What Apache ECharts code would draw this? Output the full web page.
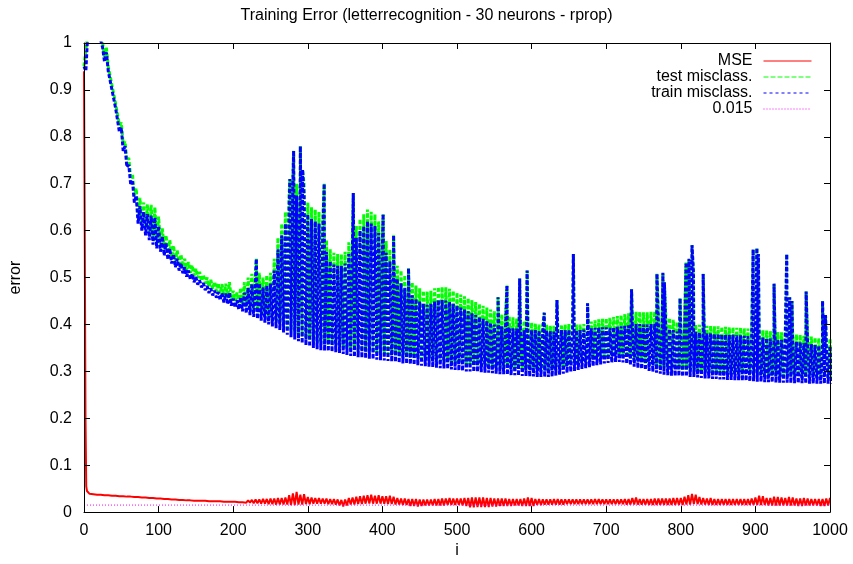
<!DOCTYPE html>
<html><head><meta charset="utf-8">
<script src="https://cdn.jsdelivr.net/npm/echarts@6/dist/echarts.min.js"></script>
<style>html,body{margin:0;padding:0;background:#fff}#c{width:853px;height:564px}</style>
</head><body><div id="c"></div>
<script>
const chartTitle = 'Training Error (letterrecognition - 30 neurons - rprop)';
const seriesNames = ['MSE', 'test misclass.', 'train misclass.', '0.015'];
const xName = 'i';
const yName = 'error';
const xMin = 0, xMax = 1000, xInterval = 100;
const yMin = 0, yMax = 1, yInterval = 0.1;
const threshold = 0.015;

// misclassification envelopes, read every 5 iterations (i = 0,5,...,1000); 1.02 = off the top of the plot
const testHi = [
0.95,1.02,1.02,1.02,1.02,1,0.99,0.95,0.91,0.87,0.83,0.79,0.755,0.72,0.69,0.67,0.66,0.656,0.655,0.65,
0.63,0.605,0.59,0.58,0.568,0.558,0.549,0.54,0.533,0.526,0.519,0.512,0.506,0.5,0.495,0.491,0.488,0.486,0.487,0.49,
0.472,0.468,0.478,0.49,0.5,0.508,0.52,0.51,0.5,0.505,0.51,0.54,0.585,0.615,0.64,0.68,0.72,0.7,0.74,0.7,
0.66,0.65,0.645,0.64,0.62,0.58,0.56,0.553,0.55,0.55,0.555,0.575,0.61,0.61,0.625,0.635,0.645,0.64,0.635,0.62,
0.6,0.578,0.56,0.545,0.525,0.515,0.505,0.495,0.49,0.483,0.477,0.472,0.47,0.472,0.477,0.48,0.48,0.479,0.476,0.472,
0.468,0.464,0.46,0.456,0.452,0.448,0.444,0.44,0.436,0.432,0.428,0.425,0.422,0.42,0.418,0.415,0.413,0.41,0.408,0.406,
0.404,0.402,0.4,0.4,0.399,0.398,0.397,0.398,0.4,0.4,0.401,0.401,0.4,0.4,0.401,0.403,0.406,0.409,0.411,0.412,
0.413,0.414,0.416,0.418,0.42,0.422,0.424,0.426,0.427,0.427,0.426,0.426,0.427,0.428,0.425,0.42,0.418,0.414,0.41,0.405,
0.402,0.4,0.4,0.4,0.4,0.399,0.398,0.397,0.397,0.396,0.396,0.395,0.395,0.394,0.394,0.393,0.393,0.392,0.391,0.39,
0.39,0.389,0.388,0.387,0.386,0.385,0.384,0.383,0.382,0.381,0.38,0.379,0.378,0.376,0.375,0.374,0.372,0.371,0.37,0.37,
0.37];
const testLo = [
0.95,1.02,1.02,1.02,1.02,0.97,0.95,0.91,0.87,0.825,0.785,0.75,0.715,0.675,0.63,0.615,0.605,0.595,0.585,0.577,
0.57,0.561,0.552,0.544,0.536,0.529,0.523,0.516,0.51,0.504,0.499,0.493,0.487,0.481,0.476,0.471,0.466,0.461,0.457,0.454,
0.45,0.446,0.442,0.438,0.434,0.43,0.426,0.422,0.418,0.414,0.41,0.406,0.402,0.397,0.392,0.387,0.382,0.378,0.374,0.37,
0.367,0.364,0.361,0.359,0.358,0.357,0.356,0.355,0.353,0.351,0.349,0.347,0.345,0.344,0.343,0.342,0.341,0.34,0.339,0.338,
0.337,0.336,0.335,0.334,0.332,0.331,0.33,0.329,0.328,0.327,0.326,0.325,0.324,0.323,0.322,0.321,0.32,0.319,0.318,0.317,
0.316,0.315,0.314,0.314,0.313,0.313,0.312,0.311,0.311,0.31,0.309,0.308,0.308,0.307,0.306,0.306,0.305,0.304,0.304,0.303,
0.303,0.302,0.302,0.302,0.302,0.303,0.305,0.307,0.309,0.311,0.313,0.315,0.317,0.319,0.321,0.323,0.325,0.327,0.329,0.331,
0.332,0.333,0.334,0.334,0.333,0.33,0.327,0.324,0.321,0.319,0.317,0.315,0.313,0.311,0.309,0.307,0.306,0.305,0.304,0.304,
0.303,0.303,0.302,0.302,0.301,0.3,0.299,0.299,0.298,0.298,0.297,0.297,0.296,0.296,0.295,0.295,0.294,0.294,0.293,0.293,
0.292,0.292,0.291,0.291,0.291,0.29,0.29,0.29,0.29,0.289,0.289,0.289,0.289,0.288,0.288,0.288,0.288,0.288,0.288,0.288,
0.288];
const trainHi = [
0.95,1.02,1.02,1.02,1.02,0.99,0.98,0.94,0.9,0.86,0.82,0.78,0.74,0.705,0.675,0.652,0.64,0.635,0.632,0.628,
0.61,0.588,0.573,0.562,0.55,0.54,0.531,0.522,0.515,0.508,0.501,0.494,0.488,0.482,0.477,0.472,0.469,0.467,0.466,0.468,
0.455,0.452,0.458,0.468,0.478,0.486,0.497,0.488,0.479,0.483,0.487,0.515,0.56,0.59,0.615,0.655,0.695,0.675,0.715,0.675,
0.635,0.625,0.62,0.615,0.595,0.555,0.535,0.528,0.525,0.525,0.53,0.55,0.585,0.585,0.6,0.61,0.62,0.615,0.61,0.595,
0.575,0.553,0.535,0.52,0.498,0.488,0.478,0.468,0.462,0.455,0.449,0.444,0.442,0.444,0.449,0.452,0.452,0.451,0.448,0.444,
0.44,0.436,0.432,0.428,0.424,0.42,0.416,0.412,0.408,0.404,0.4,0.398,0.396,0.395,0.394,0.392,0.391,0.389,0.388,0.387,
0.388,0.388,0.387,0.387,0.387,0.386,0.385,0.386,0.388,0.388,0.389,0.389,0.388,0.388,0.389,0.39,0.392,0.393,0.394,0.394,
0.394,0.393,0.394,0.395,0.396,0.397,0.398,0.4,0.401,0.401,0.4,0.4,0.401,0.402,0.4,0.396,0.394,0.391,0.388,0.385,
0.384,0.383,0.384,0.384,0.384,0.383,0.382,0.381,0.381,0.38,0.38,0.379,0.379,0.378,0.378,0.377,0.377,0.376,0.375,0.374,
0.374,0.373,0.372,0.371,0.37,0.369,0.368,0.367,0.366,0.365,0.364,0.363,0.362,0.36,0.359,0.358,0.356,0.355,0.354,0.354,
0.354];
const trainLo = [
0.94,1.02,1.02,1.02,1.02,0.96,0.94,0.9,0.86,0.81,0.77,0.735,0.7,0.66,0.615,0.6,0.59,0.58,0.57,0.562,
0.555,0.547,0.538,0.53,0.522,0.515,0.509,0.502,0.496,0.49,0.485,0.479,0.473,0.467,0.462,0.457,0.452,0.447,0.443,0.44,
0.436,0.432,0.428,0.424,0.42,0.416,0.412,0.408,0.404,0.4,0.396,0.392,0.388,0.383,0.378,0.373,0.368,0.364,0.36,0.356,
0.353,0.35,0.347,0.345,0.344,0.343,0.342,0.341,0.339,0.337,0.335,0.333,0.331,0.33,0.329,0.328,0.327,0.326,0.325,0.324,
0.323,0.322,0.321,0.32,0.318,0.317,0.316,0.315,0.314,0.313,0.312,0.311,0.31,0.309,0.308,0.307,0.306,0.305,0.304,0.303,
0.302,0.301,0.3,0.3,0.299,0.299,0.298,0.297,0.297,0.296,0.295,0.294,0.294,0.293,0.292,0.292,0.291,0.29,0.29,0.289,
0.289,0.288,0.288,0.288,0.288,0.289,0.291,0.293,0.295,0.297,0.299,0.301,0.303,0.305,0.307,0.309,0.311,0.313,0.315,0.317,
0.318,0.319,0.32,0.32,0.319,0.316,0.313,0.31,0.307,0.305,0.303,0.301,0.299,0.297,0.295,0.293,0.292,0.291,0.29,0.29,
0.289,0.289,0.288,0.288,0.287,0.286,0.285,0.285,0.284,0.284,0.283,0.283,0.282,0.282,0.281,0.281,0.28,0.28,0.279,0.279,
0.278,0.278,0.277,0.277,0.277,0.276,0.276,0.276,0.276,0.275,0.275,0.275,0.275,0.274,0.274,0.274,0.274,0.274,0.274,0.274,
0.274];
// isolated peaks of the misclassification curves [iteration, error]
const spikes = [
[231,0.54],[276,0.71],[281,0.77],[290,0.78],[293,0.73],[322,0.70],[361,0.68],[401,0.635],[415,0.59],[435,0.52],
[555,0.458],[567,0.483],[584,0.498],[594,0.515],[617,0.425],[634,0.452],[656,0.55],[675,0.445],[734,0.475],[768,0.508],
[776,0.51],[778,0.49],[799,0.456],[807,0.532],[811,0.54],[815,0.569],[817,0.51],[830,0.508],[897,0.56],[902,0.563],
[904,0.55],[925,0.487],[942,0.55],[946,0.458],[949,0.45],[968,0.47],[990,0.45],[994,0.42]];

// MSE: first iterations i=0..4, then envelope every 5 iterations (hi at 5,10,..; lo half a step later)
const mseEarly = [0.94, 0.6, 0.2, 0.055, 0.045];
const mseHi = [
0.041,0.039,0.039,0.038,0.038,0.037,0.037,0.036,0.036,0.035,0.035,0.034,0.034,0.033,0.033,0.032,0.032,0.031,0.031,0.03,
0.03,0.029,0.029,0.028,0.028,0.027,0.027,0.026,0.026,0.025,0.025,0.025,0.025,0.024,0.024,0.024,0.024,0.023,0.023,0.023,
0.023,0.024,0.024,0.025,0.026,0.027,0.027,0.028,0.028,0.029,0.029,0.03,0.03,0.031,0.036,0.04,0.043,0.037,0.038,0.032,
0.031,0.03,0.03,0.029,0.029,0.028,0.028,0.027,0.026,0.027,0.03,0.031,0.033,0.034,0.035,0.036,0.037,0.035,0.036,0.034,
0.034,0.035,0.033,0.03,0.029,0.029,0.028,0.028,0.028,0.027,0.027,0.027,0.027,0.028,0.028,0.029,0.029,0.03,0.029,0.029,
0.029,0.03,0.03,0.031,0.031,0.031,0.031,0.03,0.03,0.029,0.029,0.029,0.029,0.028,0.028,0.028,0.028,0.029,0.031,0.03,
0.028,0.028,0.027,0.027,0.027,0.028,0.028,0.027,0.027,0.027,0.027,0.027,0.027,0.027,0.027,0.027,0.028,0.028,0.027,0.027,
0.027,0.027,0.027,0.027,0.028,0.028,0.03,0.031,0.028,0.028,0.028,0.028,0.029,0.029,0.029,0.029,0.029,0.03,0.03,0.03,
0.033,0.036,0.039,0.037,0.032,0.03,0.029,0.03,0.028,0.028,0.028,0.028,0.028,0.028,0.028,0.028,0.028,0.028,0.029,0.031,
0.035,0.034,0.03,0.03,0.033,0.032,0.031,0.03,0.032,0.031,0.029,0.029,0.03,0.029,0.028,0.028,0.028,0.028,0.029,0.03];
const mseLo = [
0.039,0.038,0.037,0.037,0.036,0.036,0.035,0.035,0.034,0.034,0.033,0.033,0.032,0.032,0.031,0.031,0.03,0.03,0.029,0.029,
0.028,0.028,0.027,0.027,0.026,0.026,0.025,0.025,0.024,0.024,0.024,0.024,0.023,0.023,0.023,0.023,0.022,0.022,0.022,0.022,
0.021,0.021,0.02,0.02,0.019,0.019,0.018,0.018,0.017,0.017,0.016,0.016,0.016,0.016,0.015,0.015,0.016,0.016,0.017,0.017,
0.018,0.018,0.018,0.018,0.017,0.017,0.016,0.014,0.012,0.014,0.016,0.016,0.017,0.017,0.018,0.018,0.018,0.018,0.018,0.018,
0.017,0.017,0.016,0.016,0.015,0.015,0.013,0.013,0.012,0.013,0.014,0.014,0.014,0.014,0.014,0.014,0.015,0.015,0.015,0.015,
0.014,0.013,0.01,0.01,0.011,0.011,0.011,0.011,0.012,0.012,0.013,0.013,0.013,0.013,0.014,0.014,0.013,0.013,0.013,0.013,
0.015,0.015,0.016,0.016,0.016,0.016,0.016,0.016,0.017,0.017,0.017,0.017,0.017,0.017,0.017,0.017,0.017,0.017,0.017,0.017,
0.017,0.017,0.017,0.017,0.016,0.016,0.016,0.016,0.016,0.016,0.015,0.015,0.015,0.015,0.015,0.015,0.015,0.015,0.015,0.015,
0.016,0.016,0.017,0.017,0.016,0.016,0.015,0.015,0.015,0.015,0.015,0.015,0.015,0.015,0.015,0.015,0.015,0.015,0.015,0.015,
0.015,0.015,0.014,0.014,0.014,0.014,0.014,0.014,0.014,0.014,0.013,0.013,0.014,0.014,0.014,0.014,0.013,0.013,0.014,0.014];

function band(hi, lo, start, step, extra) {
  const pts = [];
  for (let k = 0; k < hi.length; k++) {
    pts.push([start + k * step, hi[k]]);
    if (k < lo.length) pts.push([start + k * step + step / 2, lo[k]]);
  }
  (extra || []).forEach(p => pts.push([p[0], p[1]]));
  pts.sort((a, b) => a[0] - b[0]);
  return pts;
}

const mseData = mseEarly.map((v, i) => [i, v]).concat(band(mseHi, mseLo, 5, 5));
const testData = band(testHi, testLo, 0, 5, spikes);
const trainData = band(trainHi, trainLo, 0, 5, spikes);
const threshData = [[xMin, threshold], [xMax, threshold]];

const FONT = '"Liberation Sans", Arial, Helvetica, sans-serif';
const txt = { fontFamily: FONT, fontSize: 16, color: '#000' };
const axisLine = { show: true, onZero: false, lineStyle: { color: '#000', width: 1 } };
const axisTick = { show: true, inside: true, length: 6, lineStyle: { color: '#000', width: 1 } };

const chart = echarts.init(document.getElementById('c'), null, { renderer: 'canvas' });
chart.setOption({
  animation: false,
  backgroundColor: '#fff',
  title: {
    text: chartTitle, left: 'center', top: 3, padding: [5, 0, 5, 61],
    textStyle: { fontFamily: FONT, fontSize: 16, fontWeight: 'normal', color: '#000' }
  },
  legend: {
    orient: 'vertical', right: 36, top: 48, align: 'right',
    itemWidth: 48, itemHeight: 10, itemGap: 0,
    itemStyle: { color: 'rgba(0,0,0,0)', borderWidth: 0, opacity: 0 },
    lineStyle: { width: 1 },
    textStyle: Object.assign({ padding: [0, 6, 0, 0] }, txt),
    data: [
      { name: seriesNames[0] },
      { name: seriesNames[1], lineStyle: { width: 1, type: [5, 2] } },
      { name: seriesNames[2], lineStyle: { width: 1, type: [3, 3] } },
      { name: seriesNames[3], lineStyle: { width: 1, type: [1, 2] } }
    ]
  },
  grid: { left: 83, right: 23, top: 43, bottom: 43, containLabel: false },
  xAxis: [
    { type: 'value', position: 'bottom', min: xMin, max: xMax, interval: xInterval,
      name: xName, nameLocation: 'middle', nameGap: 29, nameTextStyle: txt,
      axisLine: axisLine, axisTick: axisTick,
      axisLabel: Object.assign({ margin: 10, formatter: v => String(v) }, txt),
      splitLine: { show: false }, z: 10 },
    { type: 'value', position: 'top', min: xMin, max: xMax, interval: xInterval,
      axisLine: axisLine, axisTick: axisTick, axisLabel: { show: false },
      splitLine: { show: false }, z: 10 }
  ],
  yAxis: [
    { type: 'value', position: 'left', min: yMin, max: yMax, interval: yInterval,
      name: yName, nameLocation: 'middle', nameGap: 60, nameTextStyle: txt,
      axisLine: axisLine, axisTick: axisTick, axisLabel: Object.assign({ margin: 12 }, txt),
      splitLine: { show: false }, z: 10 },
    { type: 'value', position: 'right', min: yMin, max: yMax, interval: yInterval,
      axisLine: axisLine, axisTick: axisTick, axisLabel: { show: false },
      splitLine: { show: false }, z: 10 }
  ],
  series: [
    { name: seriesNames[0], type: 'line', data: mseData, symbol: 'none', showSymbol: false,
      color: '#ff0000', lineStyle: { color: '#ff0000', width: 2 }, z: 2 },
    { name: seriesNames[1], type: 'line', data: testData, symbol: 'none', showSymbol: false,
      color: '#00ff00', lineStyle: { color: '#00ff00', width: 3, type: [4, 2] }, z: 3 },
    { name: seriesNames[2], type: 'line', data: trainData, symbol: 'none', showSymbol: false,
      color: '#0000ff', lineStyle: { color: '#0000ff', width: 3, type: [4, 2] }, z: 4 },
    { name: seriesNames[3], type: 'line', data: threshData, symbol: 'none', showSymbol: false,
      color: '#ff00ff', lineStyle: { color: '#ff00ff', width: 1, type: [1, 2] }, z: 5 }
  ]
});
</script>
</body></html>
